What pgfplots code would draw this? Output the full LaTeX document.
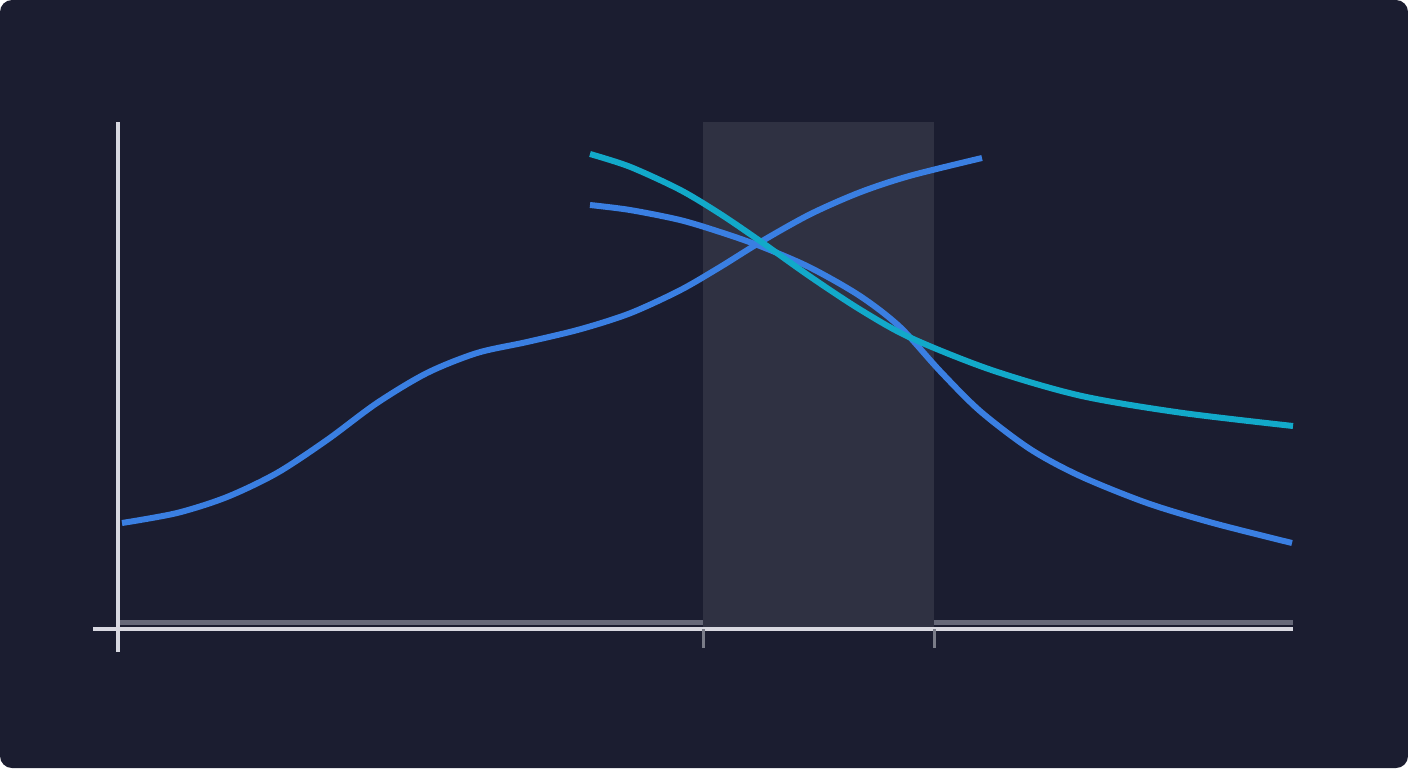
\documentclass[border=0pt]{standalone}
\usepackage{pgfplots}
\pgfplotsset{compat=1.18}
\usepackage{pgfplotstable}

\definecolor{bgdark}{HTML}{1B1D30}
\definecolor{bandgray}{HTML}{2F3142}
\definecolor{axisgray}{HTML}{D8D8E0}
\definecolor{basegray}{HTML}{676979}
\definecolor{tickgray}{HTML}{7A7C88}
\definecolor{lineblue}{HTML}{3A7FE2}
\definecolor{lineteal}{HTML}{12A9C9}

% curves (x in px, y = 768 - px row)
\pgfplotstableread{
x y
122 245
177 255
227 271
277 295
327 328
377 365
427 395
477 415
527 426
580 438.7
630 454.7
680 477.7
720 500.9
760 525.7
810 553.7
860 575.7
910 592.2
982 610
}\risecurve

\pgfplotstableread{
x y
590 614
630 601.2
680 578.2
720 554.2
760 527
810 491.5
860 458.5
910 430.5
990 398.5
1080 372.4
1180 355.4
1293 342
}\tealcurve

\pgfplotstableread{
x y
590 563
630 558
680 548
720 536
760 522
810 500.5
860 472
900 441
940 397
980 357
1030 319
1080 292
1147 265
1213 245
1292 225
}\fallcurve

\begin{document}
\begin{tikzpicture}
\begin{axis}[
    scale only axis,
    width=704pt, height=384pt,
    xmin=0, xmax=1408, ymin=0, ymax=768,
    hide axis,
    clip=false,
]
% card background
\fill[bgdark, rounded corners=6pt] (axis cs:0,0) rectangle (axis cs:1408,768);

% highlighted window
\addplot[draw=none, fill=bandgray] coordinates {(703,139) (934,139) (934,646) (703,646)} -- cycle;

% baseline strip above the axis
\addplot[basegray, line width=2.6pt] coordinates {(118,145.5) (703,145.5)};
\addplot[basegray, line width=2.6pt] coordinates {(934,145.5) (1293,145.5)};

% axes
\addplot[axisgray, line width=2pt] coordinates {(93,139) (1293,139)};
\addplot[axisgray, line width=2pt] coordinates {(117.5,116) (117.5,646)};

% ticks
\addplot[tickgray, line width=1.5pt] coordinates {(703,139) (703,120)};
\addplot[tickgray, line width=1.5pt] coordinates {(934,139) (934,120)};

% curves
\addplot[lineblue, line width=3pt, smooth] table {\risecurve};
\addplot[lineblue, line width=3pt, smooth] table {\fallcurve};
\addplot[lineteal, line width=3pt, smooth] table {\tealcurve};
\end{axis}
\end{tikzpicture}
\end{document}
